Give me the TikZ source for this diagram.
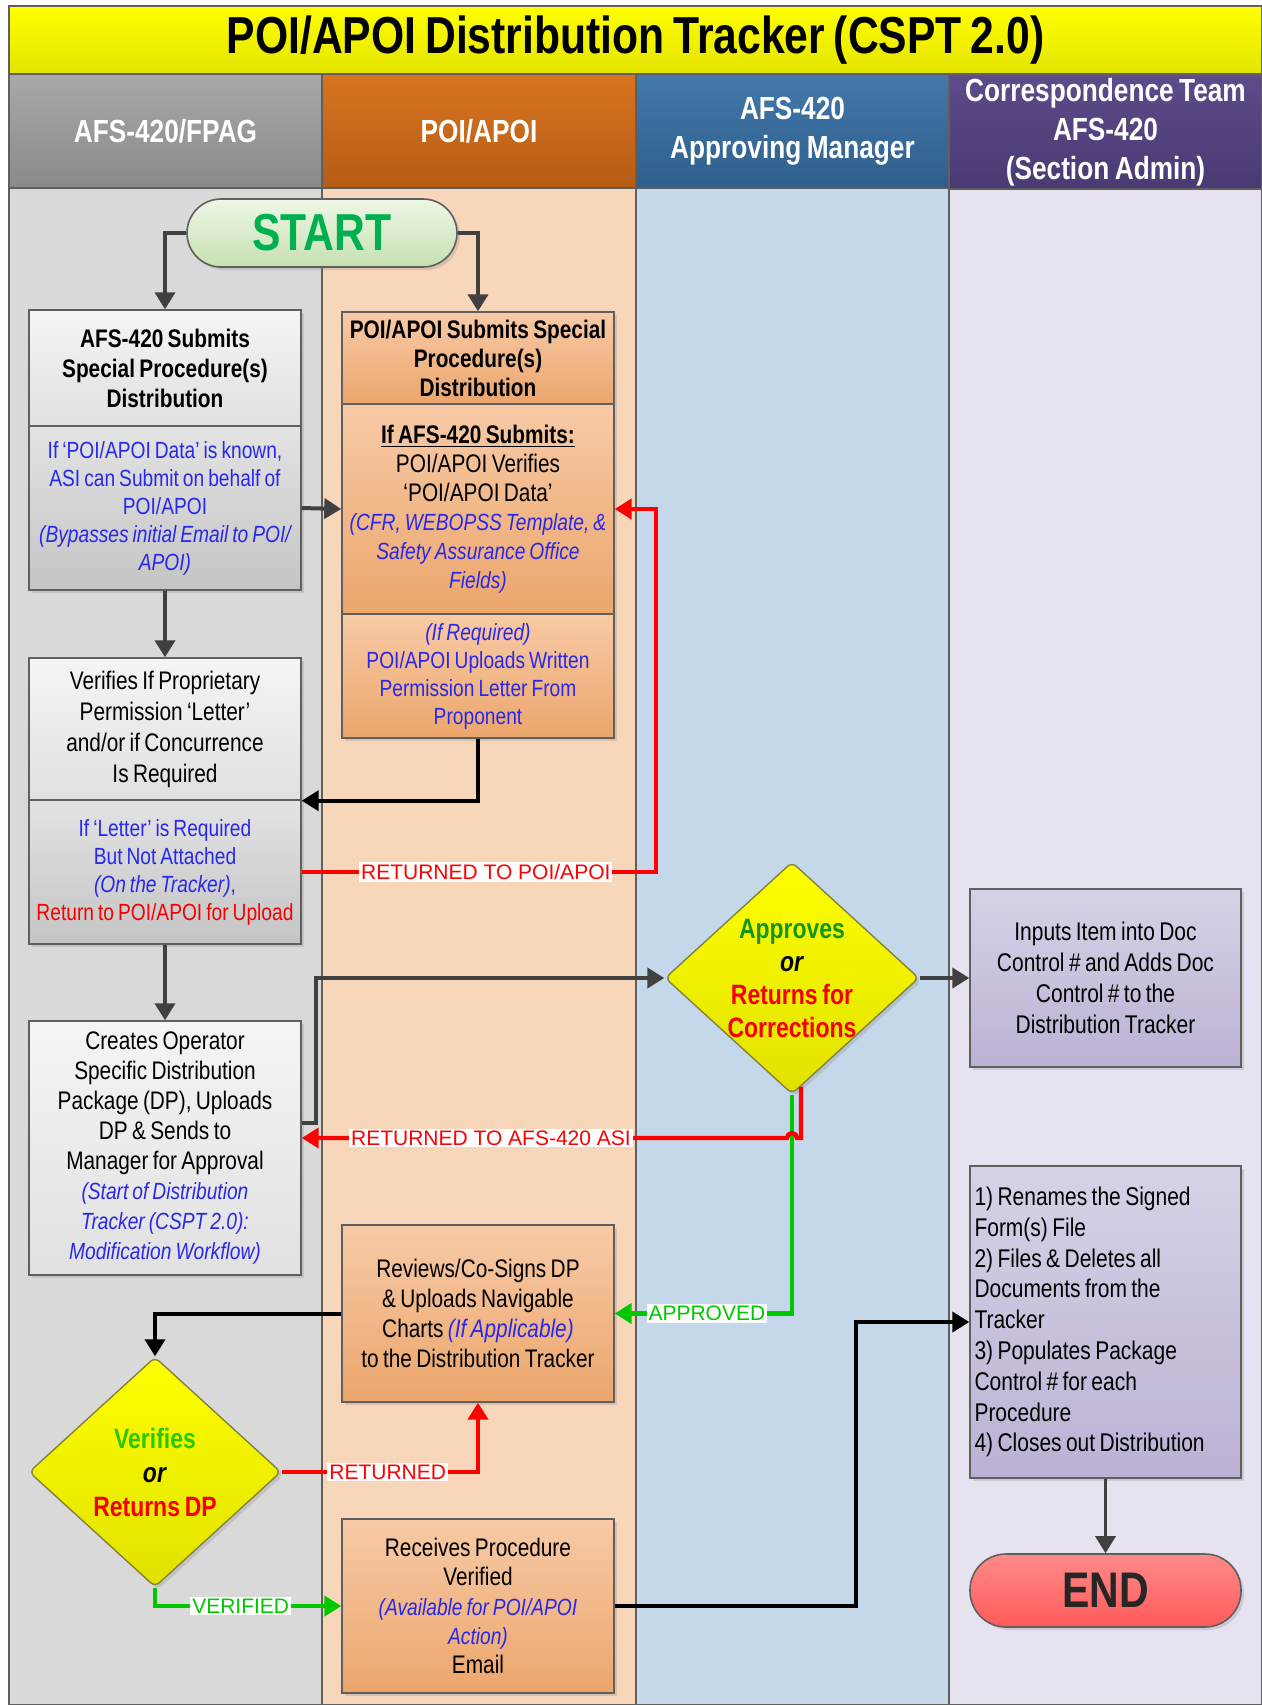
\documentclass[tikz,border=0pt]{standalone}
\usepackage{fontspec}
\setmainfont{Liberation Sans}[FakeStretch=0.82, WordSpace=0.75]
\newfontfamily\lblfont{Liberation Sans}
\usepackage{xcolor}
\usepackage{tikz}
\usetikzlibrary{shapes.geometric, arrows.meta, calc, positioning, fit, shadows}

\definecolor{hdrline}{RGB}{95,95,95}
\definecolor{lanea}{RGB}{217,217,217}
\definecolor{laneb}{RGB}{248,214,186}
\definecolor{lanec}{RGB}{197,216,233}
\definecolor{laned}{RGB}{230,226,239}
\definecolor{txtblue}{RGB}{40,40,235}
\definecolor{txtred}{RGB}{245,0,0}
\definecolor{txtgreen}{RGB}{20,150,20}
\definecolor{litegreen}{RGB}{40,200,0}
\definecolor{lnred}{RGB}{255,0,0}
\definecolor{lngreen}{RGB}{0,200,0}
\definecolor{lngray}{RGB}{64,64,64}
\definecolor{startgreen}{RGB}{0,176,80}

\newcommand{\bxfont}{\fontsize{12.7pt}{15pt}\selectfont}
\newcommand{\blu}[1]{{\color{txtblue}\fontsize{11.7pt}{14pt}\selectfont #1}}
\newcommand{\blui}[1]{{\color{txtblue}\fontsize{11.7pt}{14pt}\selectfont\itshape #1}}
\newcommand{\rdtxt}[1]{{\color{txtred}\fontsize{11.7pt}{14pt}\selectfont #1}}

\begin{document}
\begin{tikzpicture}[x=0.5pt, y=-0.5pt, arrow/.style = {line width=2pt, draw=lngray, -{Stealth[inset=0pt, length=8.5pt, width=10pt]}}]
	\tikzset{lane/.style={draw=hdrline, line width=0.7pt, inner sep=0pt}}
	\tikzset{lanehead/.style={lane, text=white, align=center, minimum width=156.5pt, minimum height=57pt, font=\fontsize{16pt}{19.5pt}\selectfont\bfseries}}
	\tikzset{shade/.style={drop shadow={opacity=0.25, shadow xshift=1.5pt, shadow yshift=-1.5pt}}}
	\tikzset{greybox/.style={draw=hdrline, line width=0.7pt, inner sep=0pt, minimum width=136pt, align=center, font=\bxfont, top color=black!4, bottom color=black!12, shade}}
	\tikzset{greylow/.style={greybox, top color=black!11, bottom color=black!23}}
	\tikzset{orangebox/.style={draw=hdrline, line width=0.7pt, inner sep=0pt, minimum width=136pt, align=center, font=\bxfont, top color={rgb,255:red,247;green,202;blue,166}, bottom color={rgb,255:red,236;green,166;blue,108}, shade}}
	\tikzset{purplebox/.style={draw=hdrline, line width=0.7pt, inner sep=0pt, minimum width=135.5pt, align=center, font=\bxfont, top color={rgb,255:red,216;green,209;blue,230}, bottom color={rgb,255:red,188;green,177;blue,212}, shade}}
	\tikzset{decision/.style={diamond, draw={rgb,255:red,130;green,130;blue,60}, line width=0.7pt, inner sep=0pt, rounded corners=3pt, top color=yellow, bottom color={rgb,255:red,225;green,225;blue,0}, shade}}
	\tikzset{lbl/.style={fill=white, inner sep=1pt, font=\lblfont\fontsize{10.5pt}{12pt}\selectfont}}
	\tikzset{blkarrow/.style={arrow, draw=black}}
	\tikzset{redarrow/.style={arrow, draw=lnred, line width=2.2pt}}
	\tikzset{grnarrow/.style={arrow, draw=lngreen, line width=2.2pt}}

	\useasboundingbox (0,0) rectangle (1262,1705);

	% Lanes
	\node[fit={(9,188) (322,1705)}, lane, fill=lanea] (lane1) {};
	\node[fit={(322,188) (636,1705)}, lane, fill=laneb] (lane2) {};
	\node[fit={(636,188) (949,1705)}, lane, fill=lanec] (lane3) {};
	\node[fit={(949,188) (1262,1705)}, lane, fill=laned] (lane4) {};

	\node[lane, minimum width=626.5pt, minimum height=34pt, top color=yellow, bottom color={rgb,255:red,228;green,228;blue,0}, font=\fontsize{26pt}{28pt}\selectfont\bfseries] (title) at (635.5,40) {POI/APOI Distribution Tracker (CSPT 2.0)};

	\node[lanehead, top color={rgb,255:red,168;green,168;blue,168}, bottom color={rgb,255:red,138;green,138;blue,138}] (head1) at (165.5,131) {AFS-420/FPAG};
	\node[lanehead, minimum width=157pt, top color={rgb,255:red,216;green,116;blue,31}, bottom color={rgb,255:red,182;green,92;blue,22}] (head2) at (479,131) {POI/APOI};
	\node[lanehead, top color={rgb,255:red,67;green,121;blue,171}, bottom color={rgb,255:red,47;green,94;blue,139}] (head3) at (792.5,131) {AFS-420\\Approving Manager};
	\node[lanehead, top color={rgb,255:red,94;green,75;blue,138}, bottom color={rgb,255:red,74;green,58;blue,115}] (head4) at (1105.5,132) {Correspondence Team\\AFS-420\\(Section Admin)};

	% Start / end
	\node[inner sep=0pt, minimum width=135pt, minimum height=34pt, draw=hdrline, line width=0.8pt, rounded corners=17pt, top color={rgb,255:red,238;green,247;blue,230}, bottom color={rgb,255:red,198;green,224;blue,176}, text=startgreen, font=\fontsize{26pt}{26pt}\selectfont\bfseries, shade] (start) at (322,233) {START};
	\node[inner sep=0pt, minimum width=135.5pt, minimum height=36.5pt, draw=hdrline, line width=0.8pt, rounded corners=18pt, top color={rgb,255:red,255;green,138;blue,138}, bottom color={rgb,255:red,255;green,90;blue,90}, text=black!85, font=\fontsize{25pt}{25pt}\selectfont\bfseries, shade] (end) at (1105.5,1590.5) {END};

	% AFS-420/FPAG
	\node[greybox, minimum height=58pt] (A1top) at (165,368) {\bfseries AFS-420 Submits\\\bfseries Special Procedure(s)\\\bfseries Distribution};
	\node[greylow, minimum height=82pt, font=\fontsize{11.7pt}{14pt}\selectfont] (A1low) at (165,508) {\blu{If ‘POI/APOI Data’ is known,}\\\blu{ASI can Submit on behalf of}\\\blu{POI/APOI}\\\blui{(Bypasses initial Email to POI/}\\\blui{APOI)}};
	\node[greybox, minimum height=71pt, font=\fontsize{12.7pt}{15.5pt}\selectfont] (A2top) at (165,729) {Verifies If Proprietary\\Permission ‘Letter’\\and/or if Concurrence\\Is Required};
	\node[greylow, minimum height=72pt, font=\fontsize{11.7pt}{14pt}\selectfont] (A2low) at (165,872) {\blu{If ‘Letter’ is Required}\\\blu{But Not Attached}\\\blui{(On the Tracker)}\blu{,}\\\rdtxt{Return to POI/APOI for Upload}};
	\node[greybox, minimum height=127pt] (A3) at (165,1148) {Creates Operator\\Specific Distribution\\Package (DP), Uploads\\DP \& Sends to\\Manager for Approval\\\blui{(Start of Distribution}\\\blui{Tracker (CSPT 2.0):}\\\blui{Modification Workflow)}};
	\node[decision, minimum width=126pt, minimum height=115pt] (D2) at (155,1472) {};
	\node[align=center, font=\fontsize{14pt}{17pt}\selectfont\bfseries] (D2txt) at (D2) {\textcolor{litegreen}{Verifies}\\\textit{or}\\\textcolor{txtred}{Returns DP}};

	% POI/APOI
	\node[orangebox, minimum height=46pt, font=\fontsize{12.7pt}{14.5pt}\selectfont\bfseries] (P1top) at (478,358) {POI/APOI Submits Special\\Procedure(s)\\Distribution};
	\node[orangebox, minimum height=105pt, font=\fontsize{12.7pt}{14.5pt}\selectfont] (P1mid) at (478,509) {\textbf{\underline{If AFS-420 Submits:}}\\POI/APOI Verifies\\‘POI/APOI Data’\\\blui{(CFR, WEBOPSS Template, \&}\\\blui{Safety Assurance Office}\\\blui{Fields)}};
	\node[orangebox, minimum height=62pt, font=\fontsize{11.7pt}{14pt}\selectfont] (P1low) at (478,676) {\blui{(If Required)}\\\blu{POI/APOI Uploads Written}\\\blu{Permission Letter From}\\\blu{Proponent}};
	\node[orangebox, minimum height=88.5pt] (P2) at (478,1313.5) {Reviews/Co-Signs DP\\\& Uploads Navigable\\Charts \textcolor{txtblue}{\itshape (If Applicable)}\\to the Distribution Tracker};
	\node[orangebox, minimum height=87pt, font=\fontsize{12.7pt}{14.7pt}\selectfont] (P3) at (478,1606) {Receives Procedure\\Verified\\\blui{(Available for POI/APOI}\\\blui{Action)}\\Email};

	% Approving manager
	\node[decision, minimum width=127pt, minimum height=116pt] (D1) at (792,978) {};
	\node[align=center, font=\fontsize{14pt}{16.5pt}\selectfont\bfseries] (D1txt) at (D1) {\textcolor{txtgreen}{Approves}\\\textit{or}\\\textcolor{txtred}{Returns for}\\\textcolor{txtred}{Corrections}};

	% Correspondence team
	\node[purplebox, minimum height=89pt, font=\fontsize{12.8pt}{15.5pt}\selectfont] (C1) at (1105.5,978) {Inputs Item into Doc\\Control \# and Adds Doc\\Control \# to the\\Distribution Tracker};
	\node[purplebox, minimum height=156pt, align=flush left, text width=131pt, font=\fontsize{12.8pt}{15.4pt}\selectfont] (C2) at (1105.5,1322) {1) Renames the Signed\\Form(s) File\\2) Files \& Deletes all\\Documents from the\\Tracker\\3) Populates Package\\Control \# for each\\Procedure\\4) Closes out Distribution};

	% Connectors
	\draw[arrow] (start.west) -| (A1top.north);
	\draw[arrow] (start.east) -| (P1top.north);
	\draw[arrow] (A1low.east) -- (P1mid.west);
	\draw[arrow] (A1low.south) -- (A2top.north);
	\draw[blkarrow] (P1low.south) |- (A2top.south east);
	\draw[redarrow] (A2low.east) -- node[lbl, text=lnred, pos=0.52]{RETURNED TO POI/APOI} ++(354,0) |- (P1mid.east);
	\draw[arrow] (A2low.south) -- (A3.north);
	\draw[arrow] ([yshift=12.5pt]A3.east) -- ++(14,0) |- (D1.west);
	\draw[arrow] (D1.east) -- (C1.west);
	\draw[grnarrow] (D1.south) |- node[lbl, text=lngreen, pos=0.74]{APPROVED} (P2.east);
	\coordinate (hopR) at (797,1138);
	\draw[redarrow] ([xshift=4.5pt, yshift=4pt]D1.south) |- (hopR) arc[start angle=0, end angle=-180, radius=5] -- node[lbl, text=lnred, pos=0.61]{RETURNED TO AFS-420 ASI} ([yshift=5pt]A3.east);
	\draw[blkarrow] (P2.west) -| (D2.north);
	\draw[redarrow] (D2.east) -| node[lbl, text=lnred, pos=0.27]{RETURNED} (P2.south);
	\draw[grnarrow] (D2.south) |- node[lbl, text=lngreen, pos=0.73]{VERIFIED} (P3.west);
	\draw[blkarrow] (P3.east) -- ++(241,0) |- (C2.west);
	\draw[arrow, line width=1.6pt] (C2.south) -- (end.north);

\end{tikzpicture}
\end{document}
